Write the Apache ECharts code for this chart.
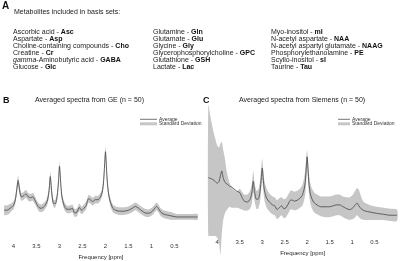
<!DOCTYPE html>
<html>
<head>
<meta charset="utf-8">
<script src="https://cdn.jsdelivr.net/npm/echarts@6/dist/echarts.min.js"></script>
<style>
  html, body { margin: 0; padding: 0; background: #fff; }
  #main { width: 400px; height: 261px; }
</style>
</head>
<body>
<div id="main"></div>
<script>
// chemical shift grid [ppm], shared by both panels
var ppm = [4.2, 4.15, 4.1, 4.05, 4.0, 3.96, 3.93, 3.9, 3.87, 3.83,
  3.78, 3.73, 3.68, 3.63, 3.58, 3.54, 3.5, 3.45, 3.4, 3.33,
  3.27, 3.23, 3.2, 3.17, 3.13, 3.09, 3.05, 3.02, 3.0, 2.98,
  2.95, 2.9, 2.84, 2.77, 2.72, 2.67, 2.62, 2.57, 2.52, 2.47,
  2.42, 2.37, 2.33, 2.28, 2.22, 2.16, 2.11, 2.07, 2.04, 2.02,
  2.0, 1.98, 1.96, 1.93, 1.89, 1.84, 1.78, 1.7, 1.6, 1.5,
  1.42, 1.35, 1.28, 1.2, 1.12, 1.05, 0.98, 0.93, 0.89, 0.85,
  0.8, 0.74, 0.66, 0.56, 0.45, 0.3, 0.15, 0.0];

// GE: average and standard deviation (a.u.)
var geMean = [31, 31, 32, 34, 36, 42, 52, 62, 53, 45,
  46, 48, 45, 44, 45, 42, 38, 34, 33, 35,
  40, 50, 66, 50, 38, 38, 46, 62, 77, 64,
  46, 36, 32, 32, 33, 28, 29, 34, 31, 33,
  36, 43, 42, 40, 42, 42, 45, 50, 62, 78,
  92, 76, 60, 47, 39, 33, 31, 30, 30, 31,
  33, 35, 33, 30, 28, 28, 30, 33, 35, 33,
  29, 27, 26, 25, 24, 24, 24, 24];
var geSd = [5, 5, 5, 4, 4, 4, 5, 5, 5, 4,
  4, 4, 4, 4, 4, 4, 4, 4, 4, 4,
  4, 5, 5, 5, 4, 4, 4, 5, 5, 5,
  4, 4, 4, 4, 4, 4, 4, 4, 4, 4,
  4, 4, 4, 4, 4, 4, 4, 4, 5, 5,
  6, 5, 5, 4, 4, 4, 4, 4, 4, 4,
  4, 4, 4, 4, 4, 4, 4, 4, 4, 4,
  4, 4, 4, 4, 3, 3, 3, 3];

// Siemens: average, lower and upper edge of the SD band (a.u.)
var siMean = [62, 61, 60, 58, 56, 58, 64, 69, 62, 57,
  55, 53, 52, 50, 48, 47, 46, 41, 37, 36,
  39, 46, 58, 47, 39, 39, 47, 62, 72, 62,
  48, 40, 36, 33, 32, 28, 30, 32, 29, 30,
  34, 38, 38, 37, 38, 40, 43, 49, 58, 72,
  84, 70, 56, 45, 39, 35, 33, 31, 31, 31,
  32, 33, 33, 31, 29, 28, 30, 33, 35, 32,
  29, 27, 26, 25, 24, 23, 22, 22];
var siLow = [0, 0, 0, 0, -2, -8, -20, 2, 16, 24,
  28, 31, 30, 30, 30, 30, 29, 28, 27, 27,
  29, 35, 46, 37, 29, 29, 36, 50, 60, 51,
  38, 30, 26, 23, 22, 18, 20, 22, 19, 20,
  24, 28, 28, 27, 28, 30, 32, 37, 45, 58,
  74, 60, 45, 35, 29, 25, 23, 21, 20, 20,
  21, 22, 22, 20, 18, 17, 18, 20, 22, 20,
  18, 17, 17, 17, 17, 17, 16, 16];
var siHigh = [139, 126, 114, 104, 96, 94, 98, 100, 92, 82,
  66, 57, 52, 49, 47, 48, 50, 47, 44, 44,
  48, 56, 69, 57, 48, 49, 58, 74, 82, 72,
  58, 50, 45, 42, 41, 38, 40, 41, 39, 40,
  44, 48, 48, 47, 48, 50, 54, 61, 71, 84,
  91, 80, 67, 56, 50, 46, 44, 42, 42, 42,
  43, 44, 44, 42, 41, 41, 44, 48, 51, 49,
  42, 36, 34, 32, 31, 30, 29, 28];

var tickLabels = [4, 3.5, 3, 2.5, 2, 1.5, 1, 0.5];

var col1 = [['Ascorbic acid', 'Asc'], ['Aspartate', 'Asp'], ['Choline-containing compounds', 'Cho'],
  ['Creatine', 'Cr'], ['gamma-Aminobutyric acid', 'GABA'], ['Glucose', 'Glc']];
var col2 = [['Glutamine', 'Gln'], ['Glutamate', 'Glu'], ['Glycine', 'Gly'],
  ['Glycerophosphorylcholine', 'GPC'], ['Glutathione', 'GSH'], ['Lactate', 'Lac']];
var col3 = [['Myo-inositol', 'mI'], ['N-acetyl aspartate', 'NAA'], ['N-acetyl aspartyl glutamate', 'NAAG'],
  ['Phosphorylethanolamine', 'PE'], ['Scyllo-inositol', 'sI'], ['Taurine', 'Tau']];

var FONT = '"Liberation Sans", Arial, sans-serif';
var BAND = '#c6c6c6';
var LINE = '#505050';

function pairs(ys) {
  return ppm.map(function (x, i) { return [x, ys[i]]; });
}

function listText(rows) {
  return rows.map(function (r) {
    var name = r[0].indexOf('gamma-') === 0
      ? '{i|gamma}{n|' + r[0].slice(5) + ' - }'
      : '{n|' + r[0] + ' - }';
    return name + '{b|' + r[1] + '}';
  }).join('\n');
}

var richList = {
  n: { fontSize: 7, fontFamily: FONT, fill: '#222', lineHeight: 6.85 },
  i: { fontSize: 7, fontFamily: FONT, fill: '#222', fontStyle: 'italic', lineHeight: 6.85 },
  b: { fontSize: 7, fontFamily: FONT, fill: '#111', fontWeight: 'bold', lineHeight: 6.85 }
};

// SD band drawn as one polygon through the axis scales
function bandSeries(idx, lo, hi) {
  return {
    type: 'custom',
    xAxisIndex: idx,
    yAxisIndex: idx,
    silent: true,
    clip: false,
    data: [[ppm[0], hi[0]]],
    encode: { x: 0, y: 1 },
    renderItem: function (params, api) {
      var pts = [];
      for (var i = 0; i < ppm.length; i++) pts.push(api.coord([ppm[i], hi[i]]));
      for (var j = ppm.length - 1; j >= 0; j--) pts.push(api.coord([ppm[j], lo[j]]));
      return {
        type: 'polygon',
        shape: { points: pts, smooth: 0.25 },
        style: { fill: BAND, stroke: null }
      };
    },
    z: 1
  };
}

function xAxisFor(idx) {
  return {
    type: 'value',
    gridIndex: idx,
    min: 0,
    max: 4.2,
    interval: 0.5,
    inverse: true,
    z: 5,
    name: 'Frequency [ppm]',
    nameLocation: 'middle',
    nameGap: 14,
    nameTextStyle: { fontSize: 6, fontFamily: FONT, color: '#222' },
    axisLine: { show: false },
    axisTick: { show: false },
    splitLine: { show: false },
    axisLabel: {
      fontSize: 6,
      fontFamily: FONT,
      color: '#333',
      margin: 3,
      formatter: function (v) {
        return tickLabels.indexOf(v) >= 0 ? String(v) : '';
      }
    }
  };
}

var geLow = geMean.map(function (m, i) { return m - geSd[i]; });
var geHigh = geMean.map(function (m, i) { return m + geSd[i]; });

var myChart = echarts.init(document.getElementById('main'), null, { renderer: 'canvas' });

myChart.setOption({
  animation: false,
  grid: [
    { left: 4.3, right: 202.5, top: 144, bottom: 17 },
    { left: 208.3, right: 0.5, top: 104, bottom: 17 }
  ],
  xAxis: [xAxisFor(0), xAxisFor(1)],
  yAxis: [
    { type: 'value', gridIndex: 0, min: 0, max: 100, show: false },
    { type: 'value', gridIndex: 1, min: 0, max: 140, show: false }
  ],
  series: [
    bandSeries(0, geLow, geHigh),
    {
      name: 'Average',
      type: 'line',
      xAxisIndex: 0,
      yAxisIndex: 0,
      data: pairs(geMean),
      symbol: 'none',
      smooth: 0.25,
      lineStyle: { color: LINE, width: 0.9 },
      z: 3
    },
    bandSeries(1, siLow, siHigh),
    {
      name: 'Average',
      type: 'line',
      xAxisIndex: 1,
      yAxisIndex: 1,
      data: pairs(siMean),
      symbol: 'none',
      smooth: 0.25,
      clip: false,
      lineStyle: { color: LINE, width: 0.9 },
      z: 3
    }
  ],
  graphic: [
    // panel A: list of metabolites
    { type: 'text', x: 2, y: 6, style: { text: 'A', font: 'bold 10px ' + FONT, fill: '#111', verticalAlign: 'middle' } },
    { type: 'text', x: 14, y: 12, style: { text: 'Metabolites included in basis sets:', font: '7px ' + FONT, fill: '#222', verticalAlign: 'middle' } },
    { type: 'text', x: 13, y: 28.9, style: { text: listText(col1), rich: richList, verticalAlign: 'top' } },
    { type: 'text', x: 153, y: 28.9, style: { text: listText(col2), rich: richList, verticalAlign: 'top' } },
    { type: 'text', x: 271, y: 28.9, style: { text: listText(col3), rich: richList, verticalAlign: 'top' } },

    // panel B heading + legend
    { type: 'text', x: 3, y: 100.5, style: { text: 'B', font: 'bold 9px ' + FONT, fill: '#111', verticalAlign: 'middle' } },
    { type: 'text', x: 35, y: 100, style: { text: 'Averaged spectra from GE (n = 50)', font: '7px ' + FONT, fill: '#222', verticalAlign: 'middle' } },
    { type: 'line', shape: { x1: 140, y1: 119.3, x2: 157, y2: 119.3 }, style: { stroke: LINE, lineWidth: 0.8 } },
    { type: 'rect', shape: { x: 140, y: 122.3, width: 17, height: 3 }, style: { fill: BAND } },
    { type: 'text', x: 159, y: 119.3, style: { text: 'Average', font: '5px ' + FONT, fill: '#333', verticalAlign: 'middle' } },
    { type: 'text', x: 159, y: 123.8, style: { text: 'Standard Deviation', font: '5px ' + FONT, fill: '#333', verticalAlign: 'middle' } },

    // panel C heading + legend
    { type: 'text', x: 203, y: 100.5, style: { text: 'C', font: 'bold 9px ' + FONT, fill: '#111', verticalAlign: 'middle' } },
    { type: 'text', x: 239, y: 100, style: { text: 'Averaged spectra from Siemens (n = 50)', font: '7px ' + FONT, fill: '#222', verticalAlign: 'middle' } },
    { type: 'line', shape: { x1: 338, y1: 119.3, x2: 350, y2: 119.3 }, style: { stroke: LINE, lineWidth: 0.8 } },
    { type: 'rect', shape: { x: 338, y: 122.3, width: 12, height: 3 }, style: { fill: BAND } },
    { type: 'text', x: 352, y: 119.3, style: { text: 'Average', font: '5px ' + FONT, fill: '#333', verticalAlign: 'middle' } },
    { type: 'text', x: 352, y: 123.8, style: { text: 'Standard Deviation', font: '5px ' + FONT, fill: '#333', verticalAlign: 'middle' } }
  ]
});

window.addEventListener('resize', function () {
  myChart.resize();
});
</script>
</body>
</html>
